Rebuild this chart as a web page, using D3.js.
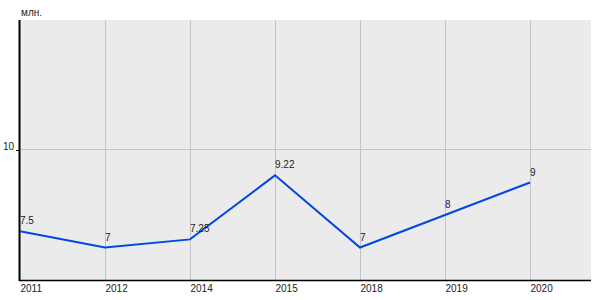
<!DOCTYPE html>
<html><head><meta charset="utf-8">
<script src="https://cdn.jsdelivr.net/npm/d3@7"></script>
<style>
html,body{margin:0;padding:0;background:#fff;}
svg{display:block;font-family:"Liberation Sans",Arial,sans-serif;}
</style></head>
<body>
<svg id="chart" width="600" height="300"></svg>
<script>
const categories = ["2011","2012","2014","2015","2018","2019","2020"];
const values = [7.5, 7, 7.25, 9.22, 7, 8, 9];
const valueLabels = ["7.5","7","7.25","9.22","7","8","9"];
const yTicks = [10];
const yDomain = [6, 14];
const unitLabel = "млн.";

const svg = d3.select("#chart");
const pLeft = 20, pRight = 591, pTop = 20, pBottom = 280;

const x = d3.scalePoint().domain(categories).range([pLeft, pLeft + 85 * (categories.length - 1)]);
const y = d3.scaleLinear().domain(yDomain).range([pBottom, pTop]);

svg.append("rect").attr("x", pLeft).attr("y", pTop).attr("width", pRight - pLeft).attr("height", pBottom - pTop).attr("fill", "#ebebeb");

// vertical gridlines
svg.append("g").selectAll("line").data(categories.slice(1)).join("line")
  .attr("x1", d => x(d) + 0.5).attr("x2", d => x(d) + 0.5)
  .attr("y1", pTop).attr("y2", pBottom)
  .attr("stroke", "#c4c4c4").attr("stroke-width", 1);

// horizontal gridlines
svg.append("g").selectAll("line").data(yTicks).join("line")
  .attr("x1", pLeft).attr("x2", pRight)
  .attr("y1", d => Math.round(y(d)) - 0.5).attr("y2", d => Math.round(y(d)) - 0.5)
  .attr("stroke", "#c4c4c4").attr("stroke-width", 1);

// y axis
const yAxis = d3.axisLeft(y).tickValues(yTicks).tickSize(4).tickPadding(2).tickFormat(d3.format("d"));
const gy = svg.append("g").attr("transform", `translate(${pLeft},0)`).call(yAxis);
gy.select(".domain").remove();
gy.selectAll(".tick line").attr("stroke", "#000");
gy.selectAll(".tick text").attr("font-size", 10).attr("fill", "#222").attr("dy", "-0.05em");
svg.append("line").attr("x1", pLeft - 0.5).attr("x2", pLeft - 0.5).attr("y1", pTop).attr("y2", pBottom + 1)
  .attr("stroke", "#000").attr("stroke-width", 2);

// x axis
const xAxis = d3.axisBottom(x).tickSize(0).tickPadding(5);
const gx = svg.append("g").attr("transform", `translate(0,${pBottom})`).call(xAxis);
gx.select(".domain").remove();
gx.selectAll(".tick text").attr("font-size", 10).attr("fill", "#222").attr("text-anchor", "start");
svg.append("line").attr("x1", pLeft - 1).attr("x2", pRight).attr("y1", pBottom + 0.5).attr("y2", pBottom + 0.5)
  .attr("stroke", "#000").attr("stroke-width", 1.5);

// unit label
svg.append("text").attr("x", pLeft + 1).attr("y", 16).attr("font-size", 10).attr("fill", "#222").text(unitLabel);

// line
const line = d3.line().x((d, i) => x(categories[i])).y(d => y(d));
svg.append("path").datum(values).attr("d", line).attr("fill", "none")
  .attr("stroke", "#0048e0").attr("stroke-width", 2);

// value labels
svg.append("g").selectAll("text").data(values).join("text")
  .attr("x", (d, i) => x(categories[i])).attr("y", d => y(d) - 7)
  .attr("font-size", 10).attr("fill", "#222").text((d, i) => valueLabels[i]);
</script>
</body></html>
